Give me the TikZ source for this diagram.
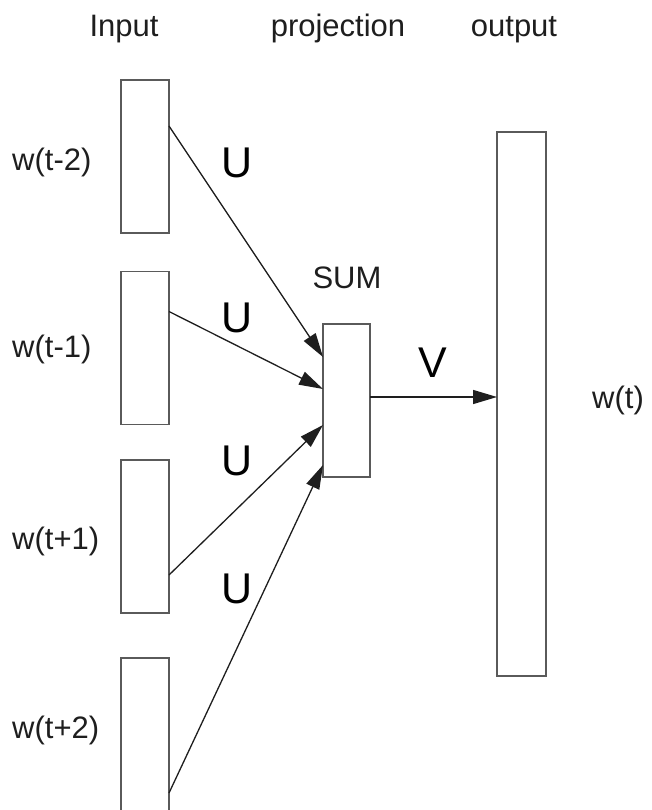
\documentclass[tikz,border=0pt]{standalone}
\usepackage{fontspec}
\setmainfont{Liberation Sans}
\usetikzlibrary{arrows.meta,calc}
\definecolor{boxgray}{HTML}{5A5A5A}
\definecolor{ink}{HTML}{1E1E1E}
\begin{document}
\begin{tikzpicture}[x=1pt,y=-1pt,
  layer/.style={draw=boxgray,line width=1.4pt,fill=white,inner sep=0pt,outer sep=0pt,minimum width=48pt},
  inbox/.style={layer,minimum height=153pt},
  conn/.style={draw=ink,line width=1.3pt,-{Triangle[length=24pt,width=14pt]}},
  lbl/.style={text=ink,font=\fontsize{31}{36}\selectfont,inner sep=0pt},
  wlbl/.style={lbl,anchor=west},
  big/.style={text=black,font=\fontsize{43}{48}\selectfont,inner sep=0pt,anchor=base}]
\useasboundingbox (0,0) rectangle (652,810);
\clip (0,0) rectangle (652,810);
\fill[white] (0,0) rectangle (652,810);
% titles
\node[lbl,anchor=base] (tin) at (124,37) {Input};
\node[lbl,anchor=base] (tproj) at (338,37) {projection};
\node[lbl,anchor=base] (tout) at (514,37) {output};
% input boxes
\node[inbox] (in1) at (145,156.5) {};
\node[inbox] (in2) at (145,348) {};
\node[inbox] (in3) at (145,536.5) {};
\node[inbox] (in4) at (145,734.5) {};
% projection
\node[inbox,minimum width=47pt] (sum) at (346.5,400.5) {};
\node[lbl,anchor=base] (sumlbl) at (347,288) {SUM};
% output
\node[layer,minimum width=49pt,minimum height=544pt] (out) at (521.5,404) {};
% labels
\node[wlbl] (w1) at (12,162) {w(t-2)};
\node[wlbl] (w2) at (12,349) {w(t-1)};
\node[wlbl] (w3) at (12,541) {w(t+1)};
\node[wlbl] (w4) at (12,730) {w(t+2)};
\node[wlbl] (wt) at (592,400) {w(t)};
% connectors
\draw[conn] ([yshift=-46pt]in1.north east) -- ([yshift=-33pt]sum.north west);
\draw[conn] ([yshift=-40pt]in2.north east) -- ([yshift=-65pt]sum.north west);
\draw[conn] ([yshift=-115pt]in3.north east) -- ([yshift=-101pt]sum.north west);
\draw[conn] ([yshift=-135pt]in4.north east) -- ([yshift=-141pt]sum.north west);
\draw[conn] ([yshift=-73pt]sum.north east) -- ([yshift=-265pt]out.north west);
% weight labels
\node[big] (u1) at (237,178) {U};
\node[big] (u2) at (237,332) {U};
\node[big] (u3) at (237,475) {U};
\node[big] (u4) at (237,603) {U};
\node[big] (v) at (433,377) {V};
\end{tikzpicture}
\end{document}
